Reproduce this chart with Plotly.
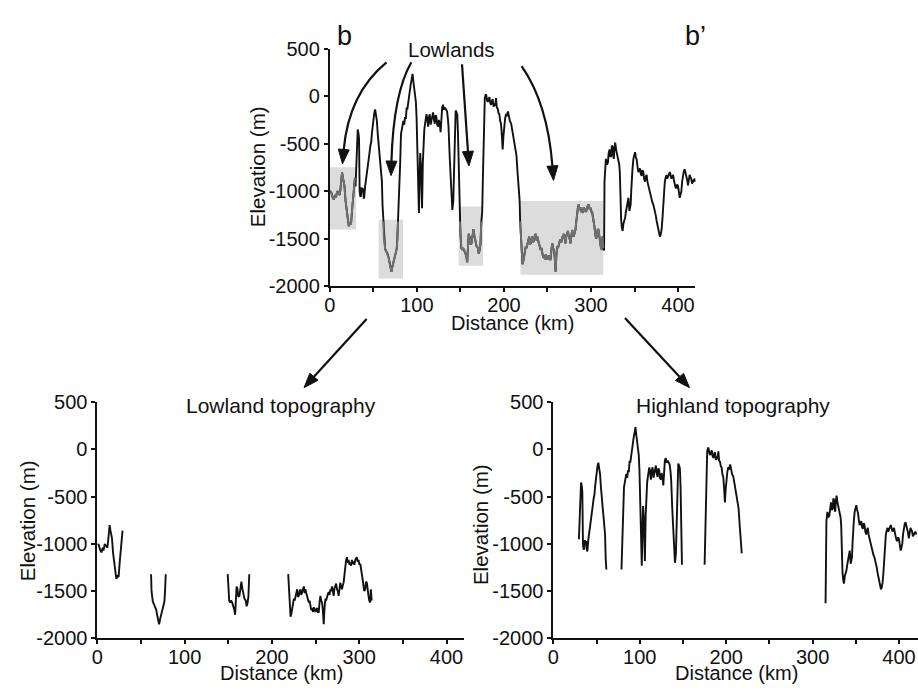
import plotly.graph_objects as go

W, H = 918, 693

# ---------------- data ----------------
distance_km = [
    0, 1.5, 3, 4.6, 6, 7, 8.4, 10, 11.4, 12.5, 14, 15, 16.7, 18, 19.8, 21, 21.7, 23, 24.3, 25.5, 26.6, 27.5, 28.8,
    29.5, 30.5, 31.2, 32, 33, 33.5, 34.2, 35, 35.7, 36.5, 37.2, 38, 39, 39.5, 40.5, 41.8, 43, 44.5, 45.5, 46.4, 47.5,
    48.3, 49.2, 50.2, 51, 52, 53, 54, 55, 55.9, 57, 58.6, 59.8, 60.5, 61.3,
    61.5, 62, 63.5, 65, 66.2, 67.5, 68.4, 69.5, 70.7, 72, 73, 74, 75.3, 76.8, 77.5, 78.3,
    78.8, 79.5, 80.3, 80.8, 81.7, 83, 84.4, 85.5, 86.3, 87.3, 88.2, 89, 90.1, 91.5, 92.8, 94, 95, 96, 97.7, 98.8,
    99.6, 100.5, 101.5, 102.3, 103.2, 103.8, 104.6, 105.2, 105.9, 106.8, 107.5, 108.5, 109.5, 111, 112, 112.9,
    113.8, 114.8, 115.8, 116.7, 117.6, 118.6, 119.6, 120.5, 121.5, 122.4, 123.3, 124.3, 125.2, 126.2, 127.2,
    128.1, 129, 130, 131, 132.3, 133.5, 134.6, 135.5, 136.3, 137.6, 139.2, 140, 140.7, 141.8, 142.7, 143.5,
    144.5, 145.5, 146.4, 147.2, 148, 148.8,
    149.3, 150, 151, 152.1, 153, 154.4, 155.5, 156.7, 157.8, 158.6, 159.5, 160.5, 161.5, 162.7, 164, 165, 166,
    167.3, 168.5, 170, 171, 171.9, 173, 174,
    175, 175.7, 176.4, 177.2, 178, 178.8, 179.5, 180.5, 181.4, 182.4, 183.3, 184.2, 185.2, 186.1, 187.1, 188,
    189, 190, 190.9, 191.8, 192.8, 193.8, 194.7, 195.6, 196.6, 197.5, 198.5, 199.4, 200.4, 201.3, 202.3, 203.4,
    204.6, 205.6, 206.8, 208.3, 209.9, 211.4, 212.9, 214.3, 215.6, 216.7, 218,
    218.6, 219.5, 220.5, 221.3, 222.2, 223.2, 224.2, 225.1, 226, 227, 228, 228.9, 229.8, 230.8, 231.7, 232.7,
    233.6, 234.6, 235.5, 236.5, 237.4, 238.4, 239.3, 240.3, 241.2, 242.2, 243.1, 244.1, 245, 246, 247, 247.9,
    248.8, 249.8, 250.7, 251.7, 252.6, 253.6, 254.5, 255.5, 256.4, 257.4, 258.3, 259.3, 260.2, 261.2, 262.1,
    263.1, 264, 265, 266, 266.9, 267.8, 268.8, 269.7, 270.7, 271.6, 272.6, 273.5, 274.5, 275.4, 276.4, 277.3,
    278.3, 279.2, 280.2, 281.1, 282.1, 283, 284, 285, 285.9, 286.8, 287.8, 288.7, 289.7, 290.6, 291.6, 292.5,
    293.5, 294.4, 295.4, 296.3, 297.3, 298.2, 299.2, 300.1, 301.1, 302, 303, 304, 304.9, 305.8, 306.8, 307.7,
    308.7, 309.6, 310.6, 311.5, 312.5, 313.3, 314.2,
    315, 315.5, 316, 317.1, 318.2, 319.4, 320.3, 321.3, 322.2, 323.2, 324, 324.7, 325.5, 326.2, 327, 327.8,
    328.8, 329.7, 330.6, 331.6, 332.4, 333.1, 333.8, 334.6, 335.4, 336.3, 337.3, 338.2, 339.2, 340.1, 341.1,
    342, 343, 344.1, 345, 345.6, 346.2, 346.8, 347.7, 348.7, 349.6, 350.6, 351.5, 352.5, 353.4, 354.4, 355.3,
    356.3, 357.2, 358.2, 359.1, 360.1, 361, 362, 363, 363.9, 364.8, 365.8, 366.7, 367.7, 368.6, 369.6, 370.5,
    371.5, 372.4, 373.4, 374.3, 375.3, 376.2, 377.2, 378.2, 379.1, 380, 381, 382, 382.9, 383.8, 384.8, 385.7,
    386.7, 387.6, 388.6, 389.5, 390.5, 391.4, 392.4, 393.3, 394.3, 395.2, 396.2, 397.1, 398.1, 399, 400, 401,
    401.9, 402.8, 403.8, 404.7, 405.7, 406.6, 407.6, 408.5, 409.5, 410.4, 411.4, 412.3, 413.3, 414.2, 415.2,
    416.1, 417.1, 418, 419, 420,
]
elevation_m = [
    -1000, -1010, -1060, -1090, -1040, -1070, -1000, -1020, -1040, -950, -800, -860, -940, -1100, -1270, -1350,
    -1370, -1340, -1350, -1200, -1070, -950, -860,
    -950, -600, -360, -350, -400, -450, -1000, -1060, -1050, -960, -1000, -970, -1080, -1060, -950, -870, -760,
    -660, -600, -530, -480, -390, -300, -220, -180, -140, -200, -260, -400, -490, -570, -700, -900, -1150, -1270,
    -1320, -1500, -1610, -1640, -1660, -1700, -1750, -1800, -1850, -1790, -1750, -1690, -1650, -1610, -1500, -1320,
    -1270, -1000, -900, -700, -400, -330, -260, -300, -220, -240, -120, -140, -50, 20, 120, 180, 235, 150, 50, -60,
    -220, -600, -1150, -1230, -800, -600, -730, -1000, -1180, -700, -500, -350, -280, -190, -250, -320,
    -220, -190, -300, -250, -200, -170, -250, -290, -200, -220, -300, -320, -250, -290, -380,
    -200, -120, -90, -140, -120, -140, -160, -230, -320, -630, -1000, -1150, -1200, -1100, -700, -350,
    -150, -170, -200, -400, -800, -1220,
    -1320, -1450, -1600, -1620, -1600, -1620, -1650, -1690, -1750, -1600, -1450, -1480, -1560, -1550, -1450,
    -1400, -1470, -1520, -1580, -1600, -1660, -1630, -1560, -1320,
    -1220, -900, -520, -200, -20, 10, 20, -40, -60, -30, -10, -70, -90, -50, -30, -110,
    -90, -100, -20, -120, -130, -180, -190, -260, -290, -400, -560, -420, -300, -240, -190, -200,
    -160, -220, -260, -290, -380, -430, -530, -620, -800, -950, -1100,
    -1320, -1500, -1700, -1770, -1740, -1690, -1620, -1580, -1600, -1550, -1520, -1480, -1560, -1550, -1500, -1480,
    -1540, -1510, -1470, -1450, -1520, -1480, -1520, -1550, -1580, -1620, -1600, -1650, -1700, -1680, -1720, -1670,
    -1700, -1720, -1690, -1680, -1720, -1720, -1620, -1550, -1600, -1620, -1700, -1850, -1680, -1580, -1600,
    -1550, -1530, -1510, -1540, -1480, -1500, -1450, -1500, -1550, -1470, -1440, -1420, -1480, -1500, -1550, -1470,
    -1410, -1450, -1480, -1440, -1410, -1330, -1210, -1170, -1140, -1200, -1170, -1220, -1200, -1230, -1170, -1210,
    -1200, -1220, -1170, -1150, -1140, -1190, -1170, -1220, -1210, -1260, -1310, -1380, -1450, -1500, -1480, -1400,
    -1410, -1500, -1550, -1600, -1620, -1480, -1600,
    -1627, -900, -760, -660, -720, -700, -600, -560, -640, -630, -520, -530, -620, -660, -540, -490,
    -560, -600, -640, -660, -720, -800, -1140, -1300, -1380, -1420, -1340, -1320, -1280, -1220, -1170,
    -1120, -1070, -1210, -1180, -1140, -1000, -870, -760, -660, -620, -590, -640, -670, -740, -800, -780,
    -760, -820, -840, -780, -800, -870, -900, -850, -830, -900, -940, -990, -1040, -1070, -1100, -1120,
    -1140, -1170, -1210, -1250, -1310, -1360, -1410, -1450, -1480, -1460, -1410, -1300, -1140, -1000, -900, -860,
    -830, -870, -850, -820, -800, -830, -870, -850, -830, -880, -940, -960, -970, -930, -950, -1020,
    -1070, -1040, -1000, -900, -830, -790, -770, -800, -830, -880, -940, -880, -830, -850, -870,
    -920, -900, -880, -870, -900,
]

# lowland stretches along the profile (km)
lowland_ranges = [(0, 29), (61.4, 78.5), (149, 174.5), (218.3, 314.5)]
# grey boxes marking the lowlands on the top profile: (x0, x1, y0, y1)
lowland_boxes = [(0, 30, -1405, -748), (56, 84, -1922, -1303),
                 (148, 176, -1786, -1163), (219, 314, -1881, -1105)]

x_ticks = [0, 50, 100, 150, 200, 250, 300, 350, 400]
x_tick_text = ["0", "", "100", "", "200", "", "300", "", "400"]
y_ticks = [-2000, -1500, -1000, -500, 0, 500]
y_tick_text = ["-2000", "-1500", "-1000", "-500", "0", "500"]


def is_low(d):
    return any(a <= d <= b for a, b in lowland_ranges)


def split(want_low):
    xs, ys = [], []
    prev = None
    for d, e in zip(distance_km, elevation_m):
        cur = is_low(d)
        if cur == want_low:
            if prev is not None and prev != want_low and xs:
                xs.append(None)
                ys.append(None)
            xs.append(d)
            ys.append(e)
        prev = cur
    return xs, ys


low_x, low_y = split(True)
high_x, high_y = split(False)

FONT = "Liberation Sans, Arial, Helvetica, sans-serif"
BLACK = "#111111"
LW = 1.9


def px(x, y):
    return x / W, 1 - y / H


fig = go.Figure()

fig.add_trace(go.Scatter(x=distance_km, y=elevation_m, mode="lines",
                         line=dict(color=BLACK, width=LW), xaxis="x", yaxis="y",
                         showlegend=False, hoverinfo="skip"))
fig.add_trace(go.Scatter(x=low_x, y=low_y, mode="lines",
                         line=dict(color="#707070", width=LW), xaxis="x", yaxis="y",
                         showlegend=False, hoverinfo="skip"))
fig.add_trace(go.Scatter(x=low_x, y=low_y, mode="lines",
                         line=dict(color=BLACK, width=LW), xaxis="x2", yaxis="y2",
                         showlegend=False, hoverinfo="skip"))
fig.add_trace(go.Scatter(x=high_x, y=high_y, mode="lines",
                         line=dict(color=BLACK, width=LW), xaxis="x3", yaxis="y3",
                         showlegend=False, hoverinfo="skip"))

TICKFONT = dict(family=FONT, size=20, color=BLACK)


def xax(domain, rng, anchor):
    return dict(domain=domain, range=rng, anchor=anchor, showgrid=False, zeroline=False,
                showline=True, linecolor=BLACK, linewidth=2, ticks="outside", ticklen=4,
                tickwidth=1.5, tickcolor=BLACK, tickvals=x_ticks, ticktext=x_tick_text,
                tickfont=TICKFONT, ticklabelstandoff=-4)


def yax(domain, anchor):
    return dict(domain=domain, range=[-2000, 500], anchor=anchor, showgrid=False, zeroline=False,
                showline=True, linecolor=BLACK, linewidth=2, ticks="outside", ticklen=4,
                tickwidth=1.5, tickcolor=BLACK, tickvals=y_ticks, ticktext=y_tick_text,
                tickfont=TICKFONT)


top_x = [326 / W, 694 / W]
top_y = [1 - 284 / H, 1 - 39 / H]
bl_x = [92 / W, 461 / W]
br_x = [551 / W, 1.0]
bot_y = [1 - 648 / H, 1 - 404 / H]

shapes = []
for x0, x1, y0, y1 in lowland_boxes:
    shapes.append(dict(type="rect", xref="x", yref="y", x0=x0, x1=x1, y0=y0, y1=y1,
                       fillcolor="#dcdcdc", line=dict(width=0), layer="below"))


def curve(p0, p1, p2):
    a, b, c = px(*p0), px(*p1), px(*p2)
    return dict(type="path", xref="paper", yref="paper",
                path=f"M {a[0]},{a[1]} Q {b[0]},{b[1]} {c[0]},{c[1]}",
                line=dict(color=BLACK, width=2.2))


def straight(p0, p1):
    a, b = px(*p0), px(*p1)
    return dict(type="path", xref="paper", yref="paper",
                path=f"M {a[0]},{a[1]} L {b[0]},{b[1]}",
                line=dict(color=BLACK, width=2.2))


def head(base, tip, width=11):
    dx, dy = tip[0] - base[0], tip[1] - base[1]
    ln = (dx * dx + dy * dy) ** 0.5
    nx, ny = -dy / ln, dx / ln
    b1 = px(base[0] + nx * width / 2, base[1] + ny * width / 2)
    b2 = px(base[0] - nx * width / 2, base[1] - ny * width / 2)
    t = px(*tip)
    return dict(type="path", xref="paper", yref="paper",
                path=f"M {t[0]},{t[1]} L {b1[0]},{b1[1]} L {b2[0]},{b2[1]} Z",
                fillcolor=BLACK, line=dict(color=BLACK, width=1))


def arrow_curve(p0, p1, p2, L=15):
    dx, dy = p2[0] - p1[0], p2[1] - p1[1]
    ln = (dx * dx + dy * dy) ** 0.5
    tip = (p2[0] + dx / ln * L, p2[1] + dy / ln * L)
    return [curve(p0, p1, p2), head(p2, tip)]


def arrow_line(p0, tip, L=15):
    dx, dy = tip[0] - p0[0], tip[1] - p0[1]
    ln = (dx * dx + dy * dy) ** 0.5
    base = (tip[0] - dx / ln * L, tip[1] - dy / ln * L)
    return [straight(p0, base), head(base, tip)]


shapes += arrow_curve((383, 53), (345, 85), (340, 143))
shapes += arrow_curve((408, 53), (390, 85), (388, 155))
shapes += arrow_curve((459, 55), (462, 100), (465, 145))
shapes += arrow_curve((519, 57), (545, 95), (550, 160))
shapes += arrow_line((363, 318), (300, 389))
shapes += arrow_line((623, 317), (688, 389))


def text(x, y, s, size=20, angle=0):
    X, Y = px(x, y)
    return dict(x=X, y=Y, xref="paper", yref="paper", text=s, showarrow=False, textangle=angle,
                xanchor="center", yanchor="middle", font=dict(family=FONT, size=size, color=BLACK))


annotations = [
    text(448, 40, "Lowlands", 20.5),
    text(277, 407, "Lowland topography", 21),
    text(732, 407, "Highland topography", 21),
    text(341, 26, "b", 27),
    text(694, 26, "b\u2019", 27),
    # axis titles
    text(510, 322, "Distance (km)", 20),
    text(277, 683.5, "Distance (km)", 20),
    text(735, 683.5, "Distance (km)", 20),
    text(254, 161, "Elevation (m)", 20.5, -90),
    text(21, 526, "Elevation (m)", 20.5, -90),
    text(477, 530, "Elevation (m)", 20.5, -90),
]

fig.update_layout(
    width=W, height=H, margin=dict(l=0, r=0, t=0, b=0),
    paper_bgcolor="white", plot_bgcolor="white",
    xaxis=xax(top_x, [0, 420], "y"), yaxis=yax(top_y, "x"),
    xaxis2=xax(bl_x, [0, 420], "y2"), yaxis2=yax(bot_y, "x2"),
    xaxis3=xax(br_x, [0, 422], "y3"), yaxis3=yax(bot_y, "x3"),
    shapes=shapes, annotations=annotations, showlegend=False,
)

fig.write_html("out.html", config={"displayModeBar": False},
               post_script="document.body.style.margin='0px';")
